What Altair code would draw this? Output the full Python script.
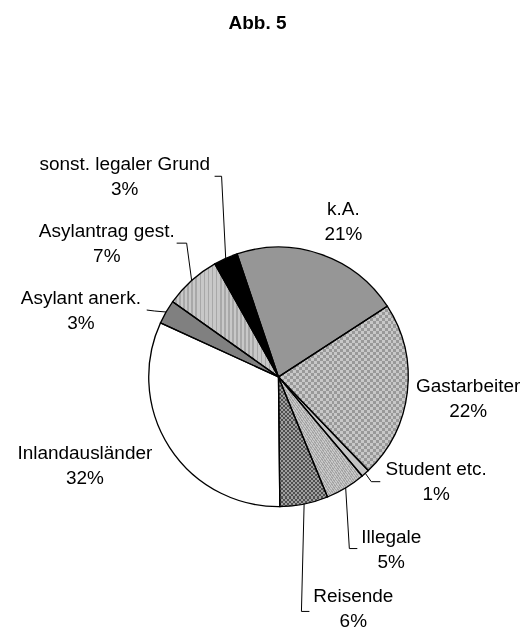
import altair as alt
import pandas as pd
import numpy as np

# ---------------- data ----------------
categories = ["k.A.", "Gastarbeiter", "Student etc.", "Illegale", "Reisende",
              "Inlandausländer", "Asylant anerk.", "Asylantrag gest.",
              "sonst. legaler Grund"]
values = [21, 22, 1, 5, 6, 32, 3, 7, 3]
pct_labels = ["21%", "22%", "1%", "5%", "6%", "32%", "3%", "7%", "3%"]
title_text = "Abb. 5"

# ---------------- layout / style (not data) ----------------
W, H = 510, 620
CX, CY, R = 279, 377, 130
START_DEG = -18.6
FONT = "Liberation Sans"

label_pos = {  # first-line baseline, page px
    "k.A.": (344, 215),
    "Gastarbeiter": (469, 392),
    "Student etc.": (437, 475),
    "Illegale": (392, 543),
    "Reisende": (354, 603),
    "Inlandausländer": (85, 459),
    "Asylant anerk.": (81, 304),
    "Asylantrag gest.": (107, 237),
    "sonst. legaler Grund": (125, 170),
}
leader_pts = {  # label end, elbow; third point is slice edge (computed)
    "sonst. legaler Grund": [(215, 176), (222, 176)],
    "Asylantrag gest.": [(177, 243), (187, 243)],
    "Asylant anerk.": [(147, 310), (155, 311)],
    "Student etc.": [(381, 482), (372, 482)],
    "Illegale": [(358, 549), (350, 549)],
    "Reisende": [(310, 612), (302, 612)],
}

df = pd.DataFrame({"cat": categories, "value": values, "pct": pct_labels})
total = float(sum(values))
df["t1"] = df["value"].cumsum()
df["t0"] = df["t1"] - df["value"]
df["mid_deg"] = START_DEG + (df["t0"] + df["t1"]) / 2 / total * 360.0
df["a0"] = START_DEG + df["t0"] / total * 360.0
df["a1"] = START_DEG + df["t1"] / total * 360.0

xs = alt.Scale(domain=[8, 8 + W], nice=False, zero=False)
ys = alt.Scale(domain=[8, 8 + H], nice=False, zero=False, reverse=True)
start_rad = np.deg2rad(START_DEG)
ts = alt.Scale(domain=[0, total], range=[start_rad, start_rad + 2 * np.pi])


def bbox(a0, a1):
    angs = [a0, a1]
    for k in range(-1, 9):
        c = k * 90
        if a0 < c < a1:
            angs.append(c)
    px = [CX] + [CX + R * np.sin(np.deg2rad(a)) for a in angs]
    py = [CY] + [CY - R * np.cos(np.deg2rad(a)) for a in angs]
    return max(px) - min(px), max(py) - min(py)


def stripes(c1, c2, n, frac, horizontal=False, diagonal=False):
    stops = []
    for i in range(n):
        o0, o1, o2 = i / n, (i + frac) / n, (i + 1) / n
        stops += [{"offset": o0, "color": c1}, {"offset": o1, "color": c1},
                  {"offset": o1, "color": c2}, {"offset": o2, "color": c2}]
    g = {"gradient": "linear", "stops": stops}
    if diagonal:
        g.update({"x1": 0, "y1": 1, "x2": 1, "y2": 0})
    elif horizontal:
        g.update({"x1": 0, "y1": 0, "x2": 0, "y2": 1})
    else:
        g.update({"x1": 0, "y1": 0, "x2": 1, "y2": 0})
    return g


def g(v):
    return "#%02x%02x%02x" % (v, v, v)


def arc_layer(cat, fill, blend=None):
    kw = dict(fill=fill, strokeWidth=0)
    if blend:
        kw["blend"] = blend
    return alt.Chart(df).transform_filter(alt.datum.cat == cat).mark_arc(
        radius=R, **kw).encode(
        theta=alt.Theta("t0:Q", scale=ts),
        theta2="t1:Q",
        x=alt.X(datum=CX, type="quantitative", scale=xs, axis=None),
        y=alt.Y(datum=CY, type="quantitative", scale=ys, axis=None),
    )


layers = []
row = {c: df[df.cat == c].iloc[0] for c in categories}


def checker_layers(cat, lo, hi, period):
    bw, bh = bbox(row[cat].a0, row[cat].a1)
    nx = max(1, int(round(bw / period)))
    ny = max(1, int(round(bh / period)))
    out = []
    if lo + hi <= 255:
        out.append(arc_layer(cat, stripes(g(lo), g(hi), nx, 0.5)))
        out.append(arc_layer(cat, stripes(g(0), g(lo + hi), ny, 0.5, horizontal=True), "difference"))
    else:
        a, b = 255 - hi, 255 - lo
        out.append(arc_layer(cat, stripes(g(a), g(b), nx, 0.5)))
        out.append(arc_layer(cat, stripes(g(0), g(a + b), ny, 0.5, horizontal=True), "difference"))
        out.append(arc_layer(cat, "#ffffff", "difference"))
    return out


layers.append(arc_layer("k.A.", "#969696"))
layers += checker_layers("Gastarbeiter", 153, 200, 6)
layers.append(arc_layer("Student etc.", "#c4c4c4"))
bw, bh = bbox(row["Illegale"].a0, row["Illegale"].a1)
layers.append(arc_layer("Illegale", stripes(g(165), g(200), int(round((bw + bh) / 3)), 0.5, diagonal=True)))
layers += checker_layers("Reisende", 80, 160, 4)
layers.append(arc_layer("Inlandausländer", "#ffffff"))
layers.append(arc_layer("Asylant anerk.", "#808080"))
bw, bh = bbox(row["Asylantrag gest."].a0, row["Asylantrag gest."].a1)
layers.append(arc_layer("Asylantrag gest.", stripes(g(200), g(168), int(round(bw / 4)), 0.6)))
layers.append(arc_layer("sonst. legaler Grund", "#000000"))

# outlines
layers.append(alt.Chart(df).mark_arc(radius=R, fill="transparent", stroke="black",
                                     strokeWidth=1.3, strokeJoin="miter").encode(
    theta=alt.Theta("t0:Q", scale=ts),
    theta2="t1:Q",
    x=alt.X(datum=CX, type="quantitative", scale=xs, axis=None),
    y=alt.Y(datum=CY, type="quantitative", scale=ys, axis=None),
))

# leader lines
lrows = []
for cat, pts in leader_pts.items():
    m = np.deg2rad(row[cat].mid_deg)
    edge = (CX + R * np.sin(m), CY - R * np.cos(m))
    for i, (x, y) in enumerate(pts + [edge]):
        lrows.append({"cat": cat, "o": i, "x": x, "y": y})
ldf = pd.DataFrame(lrows)
layers.append(alt.Chart(ldf).mark_line(color="black", strokeWidth=1).encode(
    x=alt.X("x:Q", scale=xs, axis=None),
    y=alt.Y("y:Q", scale=ys, axis=None),
    detail="cat:N",
    order="o:Q",
))

# labels
tdf = pd.DataFrame({
    "text": [c + "\n" + p for c, p in zip(categories, pct_labels)],
    "x": [label_pos[c][0] for c in categories],
    "y": [label_pos[c][1] for c in categories],
})
layers.append(alt.Chart(tdf).mark_text(font=FONT, fontSize=19, lineBreak="\n",
                                       lineHeight=25, align="center",
                                       baseline="alphabetic", color="black").encode(
    x=alt.X("x:Q", scale=xs, axis=None),
    y=alt.Y("y:Q", scale=ys, axis=None),
    text="text:N",
))

# title
ttl = pd.DataFrame({"text": [title_text], "x": [258], "y": [28]})
layers.append(alt.Chart(ttl).mark_text(font=FONT, fontSize=19, fontWeight="bold",
                                       align="center", baseline="alphabetic",
                                       color="black").encode(
    x=alt.X("x:Q", scale=xs, axis=None),
    y=alt.Y("y:Q", scale=ys, axis=None),
    text="text:N",
))

chart = alt.layer(*layers).properties(width=W, height=H, padding=0).configure_view(stroke=None)
chart.save("out.html", embed_options={"renderer": "svg", "actions": False})
